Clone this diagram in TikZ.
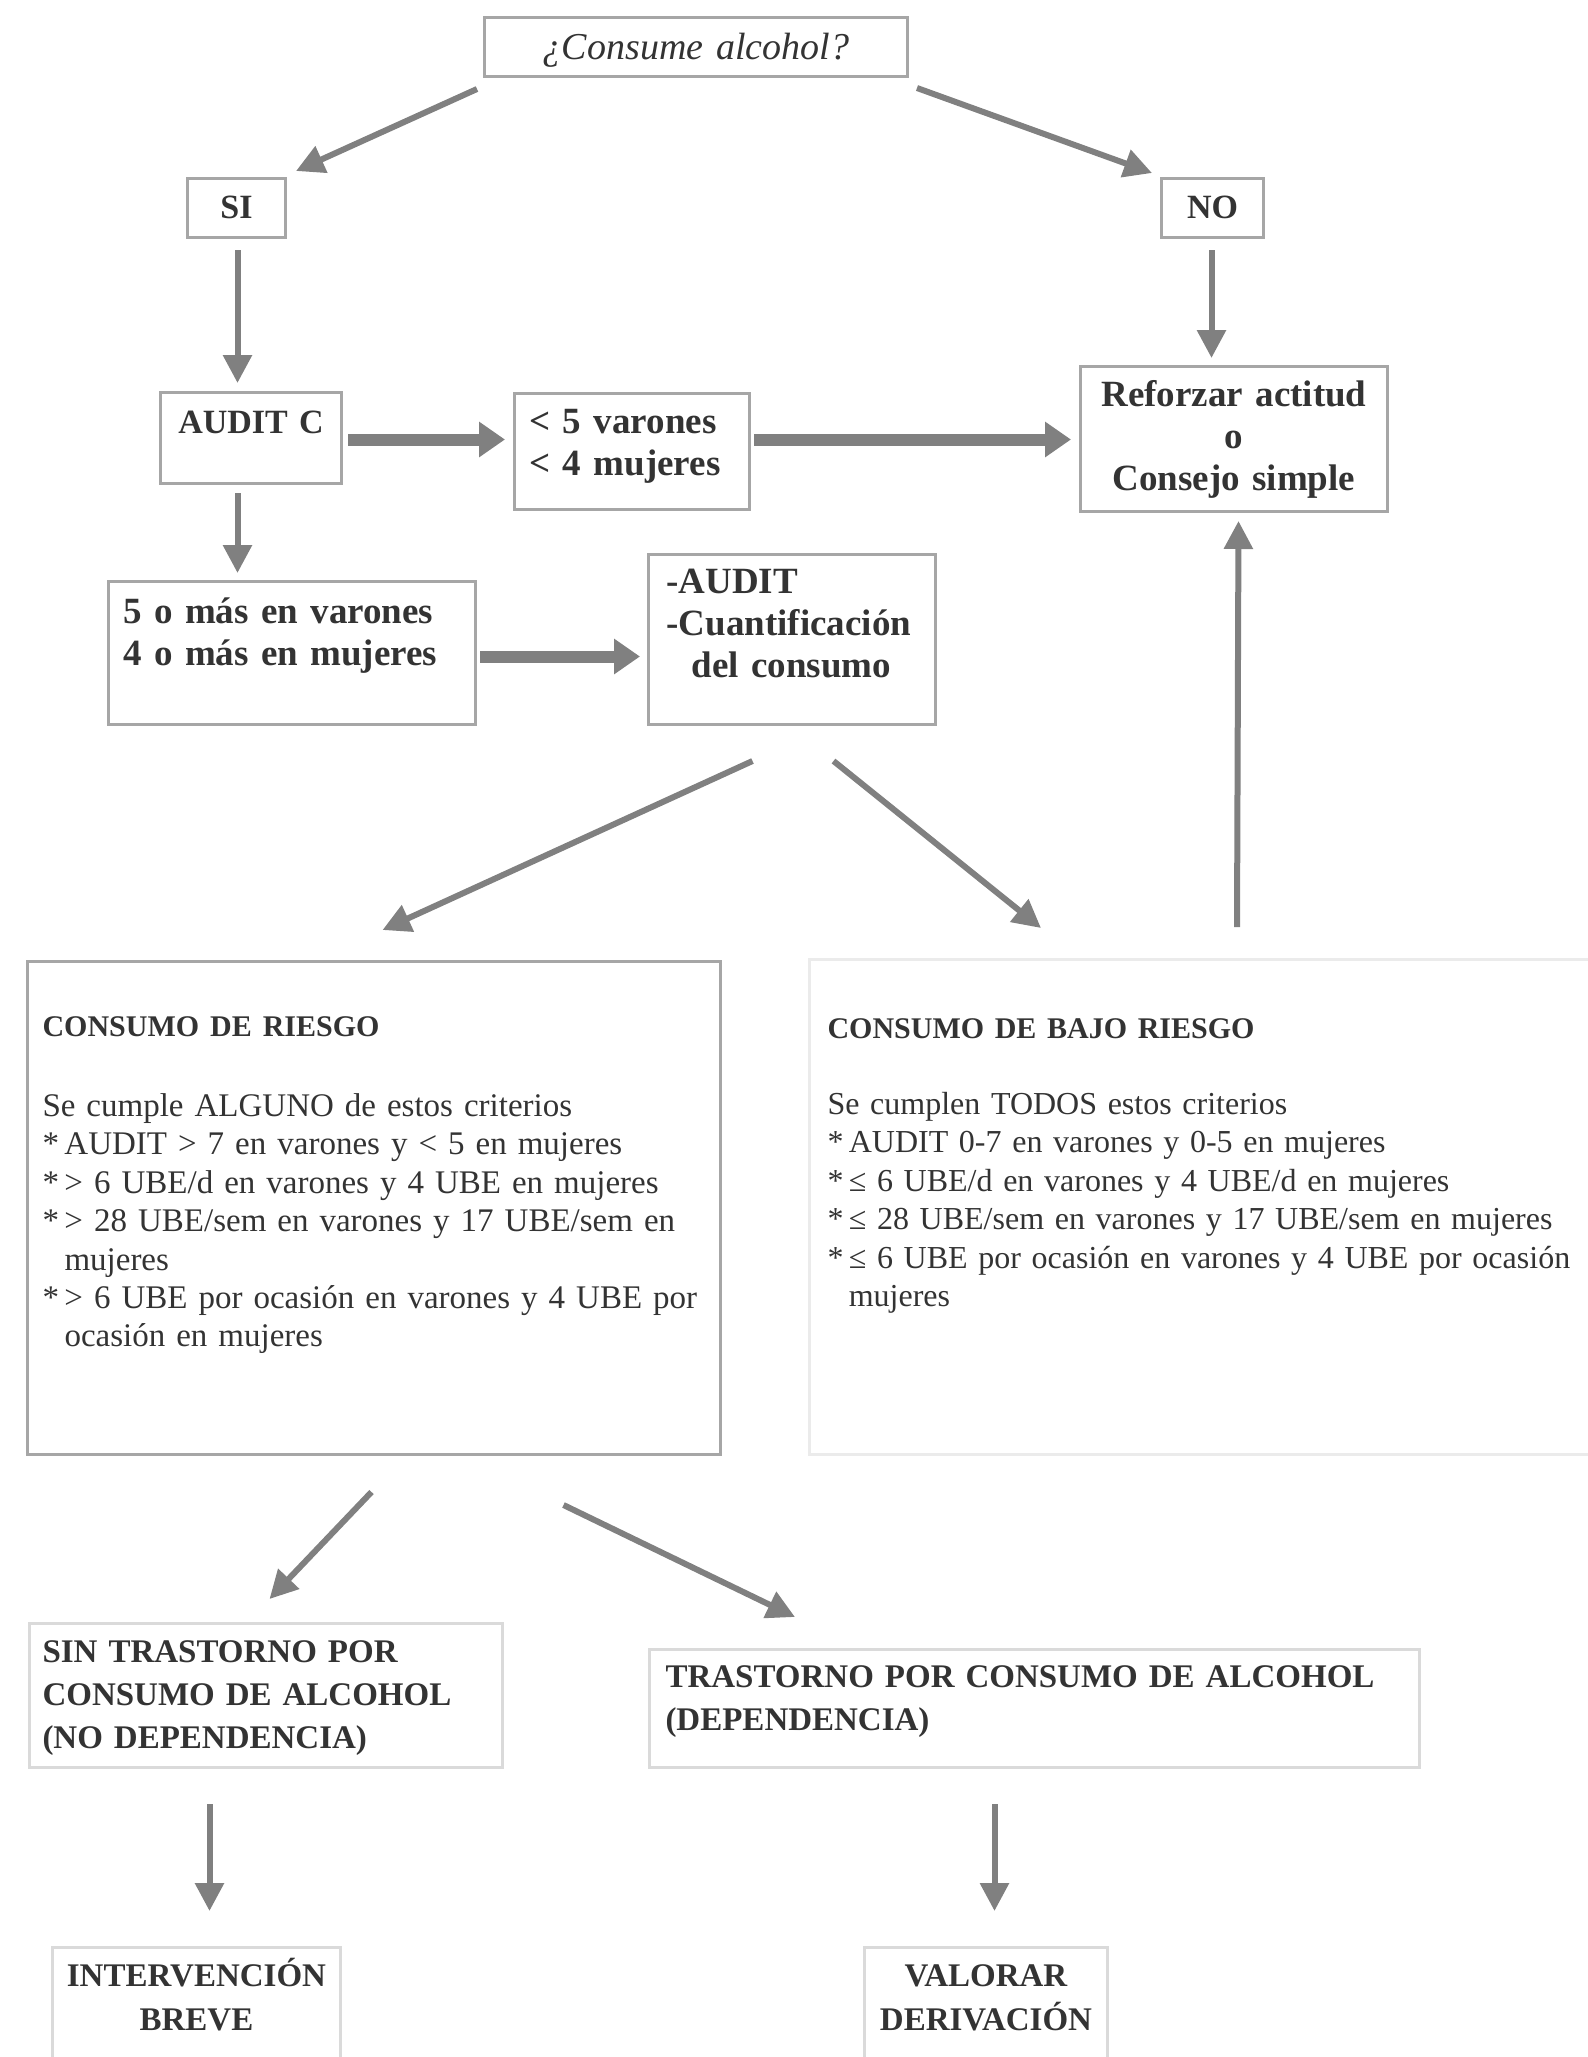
\documentclass[tikz,border=0pt]{standalone}
\usepackage{fontspec}
\setmainfont{Liberation Serif}
\usetikzlibrary{arrows.meta}
\definecolor{boxgray}{HTML}{A6A6A6}
\definecolor{faintgray}{HTML}{DADADA}
\definecolor{palegray}{HTML}{EBEBEB}
\definecolor{arrowgray}{HTML}{808080}
\definecolor{txtgray}{HTML}{333333}
\begin{document}
\begin{tikzpicture}[x=0.5pt,y=-0.5pt]
  \tikzstyle{box}=[draw=boxgray,line width=1.5pt,anchor=north west,inner xsep=0pt,inner ysep=0pt,text=txtgray,align=center,font=\bfseries\fontsize{18.5}{21}\selectfont]
  \tikzstyle{crit}=[box,align=left,inner xsep=7.5pt,font=\fontsize{16.5}{19.2}\selectfont]
  \tikzstyle{low}=[box,draw=faintgray,font=\bfseries\fontsize{16.5}{21.5}\selectfont]
  \tikzstyle{link}=[draw=arrowgray,line width=3pt,-{Triangle[length=14pt,width=14pt]}]
  \tikzstyle{biglink}=[draw=arrowgray,line width=6pt,-{Triangle[length=13pt,width=17pt]}]
  \useasboundingbox (0,0) rectangle (1588,2057);

  % top part
  \node[box,font=\itshape\fontsize{19}{21}\selectfont,text width=211.5pt,text height=21pt,text depth=8.5pt] (consume) at (483,16) {¿Consume alcohol?};
  \node[box,font=\bfseries\fontsize{17}{21}\selectfont,text width=49pt,text height=20pt,text depth=9.5pt] (si) at (186,177) {SI};
  \node[box,font=\bfseries\fontsize{17}{21}\selectfont,text width=51pt,text height=20pt,text depth=9.5pt] (no) at (1160,177) {NO};
  \node[box,font=\bfseries\fontsize{17}{21}\selectfont,text width=90.5pt,text height=20.5pt,text depth=25pt] (auditc) at (159,391) {AUDIT C};
  \node[box,align=left,inner xsep=7.5pt,text width=102.5pt,text height=20pt,text depth=38pt] (lt5) at (513,392) {< 5 varones\\< 4 mujeres};
  \node[box,text width=153.5pt,text height=20pt,text depth=52.5pt] (reforzar) at (1079,365) {Reforzar actitud\\o\\Consejo simple};
  \node[box,align=left,inner xsep=7.5pt,text width=168.5pt,text height=21pt,text depth=50.5pt] (mas5) at (107,580) {5 o más en varones\\4 o más en mujeres};
  \node[box,align=left,inner xsep=9pt,text width=125.5pt,text height=19.5pt,text depth=65.5pt] (audit) at (647,553) {-AUDIT\\-Cuantificación\\\hspace*{12.5pt}del consumo};

  % criteria
  \node[crit,text width=331.5pt,text height=37.5pt,text depth=209pt] (riesgo) at (26,960)
    {{\bfseries\fontsize{15}{19.2}\selectfont CONSUMO DE RIESGO}\\[20.8pt]
     Se cumple ALGUNO de estos criterios\\
     {*}\,AUDIT > 7 en varones y < 5 en mujeres\\
     {*}\,> 6 UBE/d en varones y 4 UBE en mujeres\\
     {*}\,> 28 UBE/sem en varones y 17 UBE/sem en\\
     \phantom{*}\,mujeres\\
     {*}\,> 6 UBE por ocasión en varones y 4 UBE por\\
     \phantom{*}\,ocasión en mujeres};
  \node[crit,draw=palegray,inner xsep=9pt,font=\fontsize{16}{19.2}\selectfont,text width=403pt,text height=39.5pt,text depth=208pt] (bajo) at (808,958)
    {{\bfseries\fontsize{15}{19.2}\selectfont CONSUMO DE BAJO RIESGO}\\[18.8pt]
     Se cumplen TODOS estos criterios\\
     {*}\,AUDIT 0-7 en varones y 0-5 en mujeres\\
     {*}\,≤ 6 UBE/d en varones y 4 UBE/d en mujeres\\
     {*}\,≤ 28 UBE/sem en varones y 17 UBE/sem en mujeres\\
     {*}\,≤ 6 UBE por ocasión en varones y 4 UBE por ocasión\\
     \phantom{*}\,mujeres};

  % bottom part
  \node[low,align=left,inner xsep=6.5pt,text width=223.5pt,text height=19.5pt,text depth=52.5pt] (sin) at (28,1622) {SIN TRASTORNO POR\\CONSUMO DE ALCOHOL\\(NO DEPENDENCIA)};
  \node[low,align=left,inner xsep=8pt,text width=369pt,text height=19pt,text depth=40pt] (trast) at (648,1648) {TRASTORNO POR CONSUMO DE ALCOHOL\\(DEPENDENCIA)};
  \node[low,font=\bfseries\fontsize{16.5}{22}\selectfont,text width=144pt,text height=19.5pt,text depth=42.5pt] (interv) at (51,1946) {INTERVENCIÓN\\BREVE};
  \node[low,font=\bfseries\fontsize{16.5}{22}\selectfont,text width=121.5pt,text height=19.5pt,text depth=42.5pt] (valorar) at (863,1946) {VALORAR\\DERIVACIÓN};

  % arrows
  \draw[link] ([shift={(-6,11)}]consume.south west) -- ([shift={(9,-6)}]si.north east);
  \draw[link] ([shift={(8,10)}]consume.south east) -- ([shift={(-8,-4)}]no.north west);
  \draw[link] ([shift={(1,11)}]si.south) -- ([shift={(-13.5,-8)}]auditc.north);
  \draw[link] ([shift={(-1,11)}]no.south) -- ([shift={(-22.5,-7)}]reforzar.north);
  \draw[biglink] ([shift={(5,1.5)}]auditc.east) -- ([shift={(-8,-12)}]lt5.west);
  \draw[biglink] ([shift={(3,-12)}]lt5.east) -- ([shift={(-8,0.5)}]reforzar.west);
  \draw[link] ([shift={(-13.5,8)}]auditc.south) -- ([shift={(-54.5,-7)}]mas5.north);
  \draw[biglink] ([shift={(3,3.5)}]mas5.east) -- ([shift={(-7,17)}]audit.west);
  \draw[link] ([shift={(-39.5,35)}]audit.south) -- ([shift={(8.5,-30)}]riesgo.north);
  \draw[link] ([shift={(41.5,35)}]audit.south) -- ([shift={(233,-30)}]bajo.north west);
  \draw[link] ([shift={(429,-31)}]bajo.north west) -- ([shift={(4.5,8)}]reforzar.south);
  \draw[link] ([shift={(-2.5,36)}]riesgo.south) -- ([shift={(3.5,-23)}]sin.north);
  \draw[link] ([shift={(189.5,49)}]riesgo.south) -- ([shift={(147,-31)}]trast.north west);
  \draw[link] ([shift={(-56.5,35)}]sin.south) -- ([shift={(13,-35)}]interv.north);
  \draw[link] ([shift={(-40,35)}]trast.south) -- ([shift={(8.5,-35)}]valorar.north);
\end{tikzpicture}
\end{document}
